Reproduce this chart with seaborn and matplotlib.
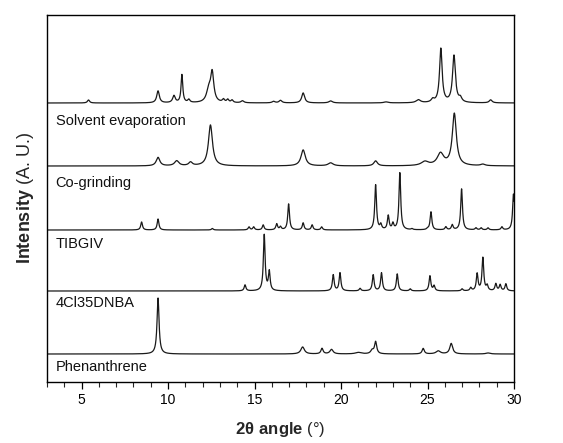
import numpy as np
import pandas as pd
import seaborn as sns
import matplotlib.pyplot as plt

# -----------------------------
# 1. Picos leidos del difractograma: posicion (2theta), altura, anchura
# -----------------------------
solvent_pos = [5.4, 9.42, 10.34, 10.8, 11.2, 12.35, 12.55, 13.2, 13.45, 13.7, 14.3, 16.1, 16.5,
               17.81, 19.4, 22.6, 24.47, 25.3, 25.77, 26.53, 26.9, 28.65]
solvent_h = [3, 12, 7, 28, 3, 12, 29, 3, 3, 2.5, 2, 1.5, 2.5,
             10, 2, 1, 3, 3, 54, 47, 4, 3]
solvent_w = [0.15, 0.18, 0.18, 0.12, 0.15, 0.3, 0.22, 0.15, 0.15, 0.15, 0.2, 0.2, 0.2,
             0.2, 0.25, 0.3, 0.3, 0.2, 0.18, 0.2, 0.2, 0.2]

cogrind_pos = [9.42, 10.5, 11.3, 12.45, 17.81, 19.4, 22.0, 24.85, 25.75, 26.55, 28.2]
cogrind_h = [8.5, 5, 3.5, 41, 16, 3, 5, 4, 12, 52, 1.5]
cogrind_w = [0.25, 0.3, 0.25, 0.28, 0.3, 0.35, 0.25, 0.5, 0.45, 0.28, 0.3]

tibgiv_pos = [8.47, 9.42, 12.56, 14.68, 14.95, 15.5, 16.28, 16.5, 16.97, 17.81, 18.33, 18.88,
              22.0, 22.3, 22.73, 23.0, 23.4, 24.1, 25.0, 25.2, 26.06, 26.43, 26.97,
              27.8, 28.1, 28.5, 29.3, 29.97]
tibgiv_h = [8, 11, 1.5, 3, 3, 5, 6, 3, 26, 7, 5, 3,
            45, 5, 14, 6, 57, 1, 1, 18, 3, 5, 41,
            2, 2, 2, 3, 36]
tibgiv_w = [0.12] * 28

dnba_pos = [14.45, 15.56, 15.85, 19.55, 19.94, 21.1, 21.86, 22.34, 23.25, 24.0, 25.14, 25.38,
            27.0, 27.5, 27.87, 28.2, 28.45, 28.95, 29.2, 29.53]
dnba_h = [6, 56, 19, 16, 18, 2.5, 16, 18, 17, 2, 15, 5,
          2, 3, 17, 33, 5, 7, 6, 7]
dnba_w = [0.12] * 20

phen_pos = [9.42, 17.78, 18.9, 19.45, 21.0, 21.8, 22.0, 24.75, 25.62, 26.37, 28.5]
phen_h = [56, 7, 5.5, 4.5, 1.5, 3.5, 12, 5.5, 3, 10.5, 1]
phen_w = [0.14, 0.25, 0.15, 0.22, 0.4, 0.2, 0.15, 0.15, 0.3, 0.2, 0.3]

nombres = ["Solvent evaporation", "Co-grinding", "TIBGIV", "4Cl35DNBA", "Phenanthrene"]

# -----------------------------
# 2. Construir los patrones (suma de lorentzianas)
# -----------------------------
two_theta = np.arange(3, 30.0001, 0.01)


def patron(pos, h, w):
    y = np.zeros_like(two_theta)
    for p, a, f in zip(pos, h, w):
        y += a / (1 + ((two_theta - p) / (f / 2)) ** 2)
    return y


patrones = [
    patron(solvent_pos, solvent_h, solvent_w),
    patron(cogrind_pos, cogrind_h, cogrind_w),
    patron(tibgiv_pos, tibgiv_h, tibgiv_w),
    patron(dnba_pos, dnba_h, dnba_w),
    patron(phen_pos, phen_h, phen_w),
]

offsets = [279, 216, 152, 91, 28]
label_y = [261, 199, 138, 79, 15]

# -----------------------------
# 3. Grafico apilado
# -----------------------------
sns.set_style("ticks")
plt.rcParams['font.family'] = ['Liberation Sans', 'DejaVu Sans']
plt.rcParams['mathtext.fontset'] = 'custom'
plt.rcParams['mathtext.rm'] = 'Liberation Sans'
plt.rcParams['mathtext.bf'] = 'Liberation Sans:bold'

fig = plt.figure(figsize=(5.63, 4.43), dpi=100)
ax = fig.add_axes([47 / 563, 61 / 443, 467 / 563, 367 / 443])

for y, off, nombre, ly in zip(patrones, offsets, nombres, label_y):
    df = pd.DataFrame({'2theta': two_theta, 'I': y + off})
    sns.lineplot(data=df, x='2theta', y='I', color='#1a1a1a', lw=0.9,
                 estimator=None, sort=False, ax=ax)
    ax.text(3.5, ly, nombre, fontsize=10.5, va='center', ha='left', color='#111111')

ax.set_xlim(3, 30)
ax.set_ylim(0, 367)
ax.set_xticks([5, 10, 15, 20, 25, 30])
ax.set_xticks(np.arange(3, 31, 1), minor=True)
ax.set_yticks([])
ax.tick_params(axis='x', which='major', direction='out', length=5, width=0.9,
               labelsize=10, pad=3, colors='black')
ax.tick_params(axis='x', which='minor', direction='out', length=3.5, width=0.8)
for s in ax.spines.values():
    s.set_visible(True)
    s.set_linewidth(1.0)
    s.set_color('black')

ax.set_xlabel(r"$\mathbf{2θ\ angle}$ (°)", fontsize=12, labelpad=9)
ax.set_ylabel(r"$\mathbf{Intensity}$ (A. U.)", fontsize=13, labelpad=8)

fig.savefig("out.png", dpi=100)
